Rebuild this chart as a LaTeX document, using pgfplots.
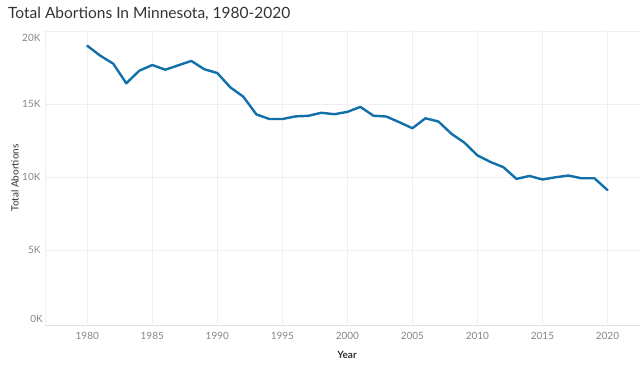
\documentclass[border=0pt]{standalone}
\usepackage{pgfplots}
\pgfplotsset{compat=1.18}
\usepackage{fontspec}
\setmainfont{Lato}
\definecolor{lineblue}{HTML}{1170AA}
\definecolor{gridgray}{HTML}{EFEFEF}
\definecolor{ticktext}{HTML}{858585}
\definecolor{titletext}{HTML}{333333}
\definecolor{axisgray}{HTML}{E2E2E2}
\begin{document}
\begin{tikzpicture}[x=1pt,y=1pt]
\path[use as bounding box] (0,0) rectangle (640,369);
\node[anchor=west,text=titletext,inner sep=0pt] at (8,355) {\fontsize{15.5}{18}\selectfont Total Abortions In Minnesota, 1980-2020};
\begin{axis}[
  at={(45pt,44pt)}, anchor=south west,
  scale only axis, width=595pt, height=295pt,
  xmin=1976.75, xmax=2022.5,
  ymin=-140, ymax=20070,
  scaled y ticks=false, scaled x ticks=false,
  axis line style={draw=none},
  xtick={1980,1985,...,2020},
  ytick={5000,10000,15000},
  yticklabels={5K,10K,15K},
  extra y ticks={20000},
  extra y tick labels={20K},
  extra y tick style={grid=major, yticklabel style={yshift=-7pt}},
  x tick label style={/pgf/number format/1000 sep={}, yshift=-4pt},
  y tick label style={xshift=-1pt},
  /pgf/number format/assume math mode=true,
  tick label style={font=\fontsize{10}{12}\selectfont, text=ticktext},
  major tick length=0pt,
  xtick pos=bottom, ytick pos=left,
  grid=major,
  major grid style={draw=gridgray, line width=0.8pt},
  clip=false,
]
\draw[axisgray, line width=0.8pt] (axis cs:1976.75,-140) -- (axis cs:2022.5,-140);
\draw[gridgray, line width=0.8pt] (axis cs:1976.75,-140) -- (axis cs:1976.75,20070);
\addplot[lineblue, line width=2.4pt, line join=round, line cap=round] coordinates {
(1980,18990) (1981,18310) (1982,17760) (1983,16420) (1984,17280)
(1985,17670) (1986,17350) (1987,17650) (1988,17950) (1989,17380)
(1990,17120) (1991,16140) (1992,15500) (1993,14290) (1994,13970)
(1995,13970) (1996,14150) (1997,14190) (1998,14400) (1999,14300)
(2000,14460) (2001,14800) (2002,14200) (2003,14140) (2004,13750)
(2005,13340) (2006,14020) (2007,13800) (2008,12960) (2009,12350)
(2010,11480) (2011,11030) (2012,10670) (2013,9870) (2014,10070)
(2015,9830) (2016,9980) (2017,10100) (2018,9910) (2019,9910)
(2020,9100)
};
\end{axis}
\node[anchor=east,text=ticktext,inner sep=0pt] at (43,50) {\fontsize{10}{12}\selectfont 0K};
\node[rotate=90,text=titletext,inner sep=0pt] at (15,191) {\fontsize{10}{12}\selectfont Total Abortions};
\node[text=titletext,inner sep=0pt] at (347,14) {\fontsize{10}{12}\selectfont\bfseries Year};
\end{tikzpicture}
\end{document}
